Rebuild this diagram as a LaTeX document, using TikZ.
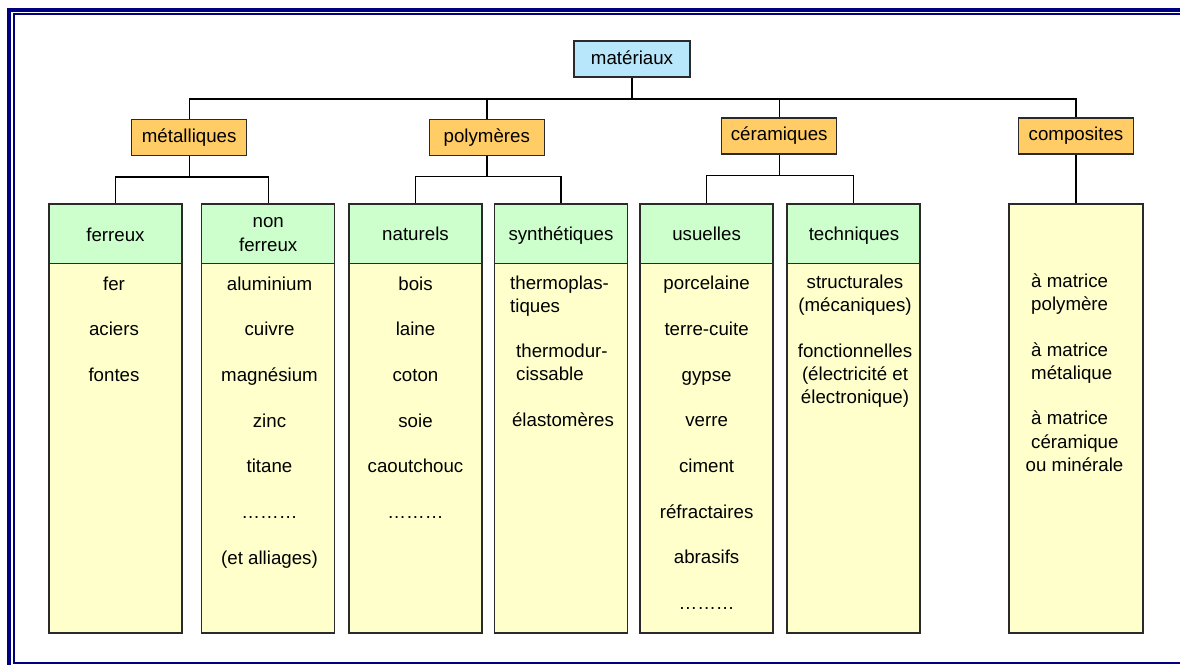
\documentclass[tikz,border=0pt]{standalone}
\usepackage{fontspec}
\setmainfont{Liberation Sans}
\definecolor{navyb}{HTML}{000080}
\definecolor{cblue}{HTML}{B8E6FA}
\definecolor{corange}{HTML}{FFCC66}
\definecolor{cgreen}{HTML}{CCFFCC}
\definecolor{cyellow}{HTML}{FFFFCC}
\definecolor{edge}{HTML}{2A2A2A}
\newcommand{\fsz}{\fontsize{18.7}{23}\selectfont}
\begin{document}
\begin{tikzpicture}[x=1pt,y=-1pt,
  box/.style={draw=edge,line width=1.3pt,inner sep=0pt,font=\fsz,text height=13.5pt,text depth=3.5pt},
  topbox/.style={box,fill=cblue,minimum width=116pt,minimum height=36pt},
  catbox/.style={box,fill=corange,minimum width=115pt,minimum height=36pt},
  hdrbox/.style={draw=edge,line width=1.3pt,fill=cgreen,minimum width=133pt,minimum height=59.4pt,anchor=north,inner sep=0pt},
  bodybox/.style={draw=edge,line width=1.3pt,fill=cyellow,minimum width=133pt,minimum height=369.6pt,anchor=north,inner sep=0pt},
  fullbox/.style={draw=edge,line width=1.3pt,fill=cyellow,minimum width=134pt,minimum height=429pt,anchor=north,inner sep=0pt},
  conn/.style={draw=black,line width=1.4pt},
  item/.style={font=\fsz,inner sep=0pt,anchor=base},
  itemL/.style={font=\fsz,inner sep=0pt,anchor=base west}]
\useasboundingbox (0,0) rectangle (1180,664);
\fill[white] (0,0) rectangle (1180,664);
% frame
\draw[navyb,line width=4pt] (9,10) rectangle (1210,700);
\draw[navyb,line width=2.2pt] (13.9,14) rectangle (1200,662.6);

% top and categories
\node[topbox] (mat) at (632,59) {matériaux};
\node[catbox] (met) at (189.2,137.3) {métalliques};
\node[catbox] (poly) at (486.8,137.3) {polymères};
\node[catbox] (cer) at (779.2,135.9) {céramiques};
\node[catbox] (comp) at (1076,135.9) {composites};

% columns
\node[hdrbox] (hfer) at (115.5,203.3) {};
\node[bodybox] (bfer) at (115.5,262.7) {};
\node[hdrbox] (hnon) at (268.2,203.3) {};
\node[bodybox] (bnon) at (268.2,262.7) {};
\node[hdrbox] (hnat) at (415.5,203.3) {};
\node[bodybox] (bnat) at (415.5,262.7) {};
\node[hdrbox] (hsyn) at (560.8,203.3) {};
\node[bodybox] (bsyn) at (560.8,262.7) {};
\node[hdrbox] (husu) at (706.6,203.3) {};
\node[bodybox] (busu) at (706.6,262.7) {};
\node[hdrbox] (htec) at (853.4,203.3) {};
\node[bodybox] (btec) at (853.4,262.7) {};
\node[fullbox] (bcomp) at (1076,203.3) {};

% connectors
\draw[conn] (mat.south) -- ++(0,21.4) coordinate (busC);
\draw[conn] (met.north) |- (busC);
\draw[conn] (poly.north) |- (busC);
\draw[conn] (cer.north) |- (busC);
\draw[conn] (comp.north) |- (busC);
\draw[conn] (met.south) -- ++(0,21) coordinate (mb);
\draw[conn] (hfer.north) |- (mb) -| (hnon.north);
\draw[conn] (poly.south) -- ++(0,20.4) coordinate (pb);
\draw[conn] (hnat.north) |- (pb) -| (hsyn.north);
\draw[conn] (cer.south) -- ++(0,20.7) coordinate (cb);
\draw[conn] (husu.north) |- (cb) -| (htec.north);
\draw[conn] (comp.south) -- (bcomp.north);

% headers
\node[item] (tfer) at (115.5,241) {ferreux};
\node[item] (tnon1) at (268.2,227.6) {non};
\node[item] (tnon2) at (268.2,251) {ferreux};
\node[item] (tnat) at (415.5,240.5) {naturels};
\node[item] (tsyn) at (561,240.5) {synthétiques};
\node[item] (tusu) at (706.6,240.5) {usuelles};
\node[item] (ttec) at (854,240.5) {techniques};

% ferreux items
\foreach \yy/\tt [count=\i] in {290/fer,335.7/aciers,381.4/fontes}
  \node[item] (fe\i) at (114,\yy) {\tt};
% non ferreux items
\foreach \yy/\tt [count=\i] in {290/aluminium,335.7/cuivre,381.4/magnésium,427/zinc,472.7/titane,518/………,564/(et alliages)}
  \node[item] (nf\i) at (269.5,\yy) {\tt};
% naturels items
\foreach \yy/\tt [count=\i] in {290/bois,335.7/laine,381.4/coton,427/soie,472.7/caoutchouc,518/………}
  \node[item] (na\i) at (415.5,\yy) {\tt};
% synthetiques items
\node[itemL] (sy1) at (510,289.5) {thermoplas-};
\node[itemL] (sy2) at (510,312.5) {tiques};
\node[itemL] (sy3) at (516,357.5) {thermodur-};
\node[itemL] (sy4) at (516,380.5) {cissable};
\node[item] (sy5) at (563,426.5) {élastomères};
% usuelles items
\foreach \yy/\tt [count=\i] in {289.5/porcelaine,335.2/terre-cuite,381/gypse,426.7/verre,472.4/ciment,518/réfractaires,563.8/abrasifs,609.5/………}
  \node[item] (us\i) at (706.6,\yy) {\tt};
% techniques items
\foreach \yy/\tt [count=\i] in {288.5/structurales,311.5/(mécaniques),357/fonctionnelles,380/(électricité et,403/électronique)}
  \node[item] (te\i) at (855,\yy) {\tt};
% composites items
\node[itemL] (co1) at (1031,287.5) {à matrice};
\node[itemL] (co2) at (1031,310.5) {polymère};
\node[itemL] (co3) at (1031,356) {à matrice};
\node[itemL] (co4) at (1031,379) {métalique};
\node[itemL] (co5) at (1031,424.5) {à matrice};
\node[itemL] (co6) at (1031,448) {céramique};
\node[itemL] (co7) at (1025.5,471) {ou minérale};
\end{tikzpicture}
\end{document}
